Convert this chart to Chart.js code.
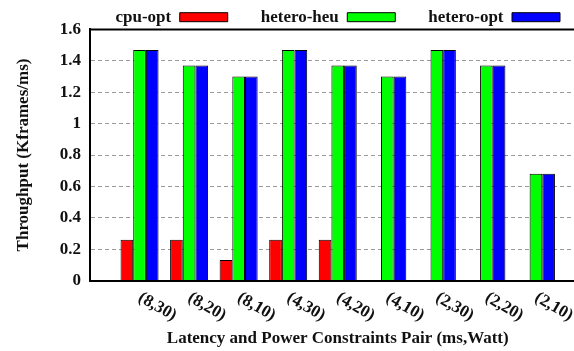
<!DOCTYPE html>
<html>
<head>
<meta charset="utf-8">
<script src="https://cdn.jsdelivr.net/npm/chart.js@4/dist/chart.umd.min.js"></script>
<style>
  html, body { margin: 0; padding: 0; background: #fff; overflow: hidden; }
  #wrap { width: 620px; height: 351px; }
</style>
</head>
<body>
<div id="wrap"><canvas id="chart" width="620" height="351"></canvas></div>
<script>
// Constraint pairs (latency ms, power Watt)
const pairs = ['(8,30)', '(8,20)', '(8,10)', '(4,30)', '(4,20)', '(4,10)', '(2,30)', '(2,20)', '(2,10)'];
// Throughput in Kframes/ms; cpu-opt has no feasible solution for the last four pairs
const cpuOpt     = [0.26, 0.26, 0.13, 0.26, 0.26, null, null, null, null];
const heteroHeu  = [1.47, 1.37, 1.30, 1.47, 1.37, 1.30, 1.47, 1.37, 0.68];
const heteroOpt  = [1.47, 1.37, 1.30, 1.47, 1.37, 1.30, 1.47, 1.37, 0.68];
const seriesNames = ['cpu-opt', 'hetero-heu', 'hetero-opt'];

const SERIF = "'Liberation Serif', 'Times New Roman', serif";
const boldFont = { family: SERIF, size: 17, weight: 'bold' };
const INK = '#111';

const toPoints = arr => arr.map((v, i) => ({ x: i, y: v }));

// Keeps the key on one row and sets its height; draws the frame edges and slanted category labels
const framePlugin = {
  id: 'frame',
  afterInit(chart) {
    const lg = chart.legend;
    if (lg) {
      const fit = lg.fit;
      lg.fit = function () {
        const mw = this.maxWidth;
        this.maxWidth = mw + 200;
        fit.call(this);
        this.maxWidth = mw;
        this.width = mw;
        this.height = 53.8;
      };
    }
  },
  afterLayout(chart) {
    // widen the key box symmetrically so its single row is not wrapped
    const lg = chart.legend;
    if (lg) {
      lg.left -= 60;
      lg.right += 60;
      lg.width += 120;
    }
  },
  afterDraw(chart) {
    const { ctx, chartArea: a } = chart;
    const x = chart.scales.x;
    ctx.save();
    ctx.strokeStyle = '#000';
    ctx.lineWidth = 2;
    ctx.beginPath();
    ctx.moveTo(a.left - 1, a.top);
    ctx.lineTo(a.right, a.top);
    ctx.lineTo(a.right, a.bottom);
    ctx.stroke();

    ctx.fillStyle = INK;
    ctx.font = `bold 17px ${SERIF}`;
    ctx.textAlign = 'left';
    ctx.textBaseline = 'middle';
    pairs.forEach((p, i) => {
      const px = x.getPixelForValue(i);
      ctx.save();
      ctx.translate(px, a.bottom + 16);
      ctx.rotate(30 * Math.PI / 180);
      ctx.fillText(p, 0, 0);
      ctx.restore();
    });
    ctx.restore();
  }
};

new Chart(document.getElementById('chart'), {
  type: 'bar',
  data: {
    datasets: [
      { label: seriesNames[0], data: toPoints(cpuOpt),    backgroundColor: '#ff0000' },
      { label: seriesNames[1], data: toPoints(heteroHeu), backgroundColor: '#00ff00' },
      { label: seriesNames[2], data: toPoints(heteroOpt), backgroundColor: '#0000ff' }
    ]
  },
  options: {
    responsive: false,
    animation: false,
    devicePixelRatio: 1,
    layout: { padding: { top: -24.3, left: 0, right: 34.5, bottom: 0 } },
    datasets: {
      bar: {
        borderColor: '#000',
        borderWidth: 1,
        categoryPercentage: 0.767,
        barPercentage: 1
      }
    },
    plugins: {
      legend: {
        position: 'top',
        fullSize: false,
        rtl: true,
        reverse: true,
        textDirection: 'ltr',
        labels: {
          font: boldFont,
          color: INK,
          boxWidth: 48,
          boxHeight: 9,
          padding: 33
        }
      },
      tooltip: { enabled: false }
    },
    scales: {
      x: {
        type: 'linear',
        min: -1,
        max: 9,
        offset: false,
        grid: { display: false },
        border: { display: true, color: '#000', width: 2, z: 1 },
        ticks: { display: false },
        title: {
          display: true,
          text: 'Latency and Power Constraints Pair (ms,Watt)',
          font: boldFont,
          color: INK,
          padding: { top: 0, bottom: 2 }
        },
        afterFit(s) { s.height = 70.5; }
      },
      y: {
        min: 0,
        max: 1.6,
        ticks: {
          stepSize: 0.2,
          font: boldFont,
          color: INK,
          padding: 9,
          callback: v => String(+v.toFixed(1))
        },
        grid: { color: '#9a9a9a', lineWidth: 1, drawTicks: false },
        border: { display: true, color: '#000', width: 2, dash: [4, 3], z: 1 },
        title: {
          display: true,
          text: 'Throughput (Kframes/ms)',
          font: boldFont,
          color: INK,
          padding: { top: 13, bottom: 0 }
        },
        afterFit(s) { s.width = 90; }
      }
    }
  },
  plugins: [framePlugin]
});
</script>
</body>
</html>
